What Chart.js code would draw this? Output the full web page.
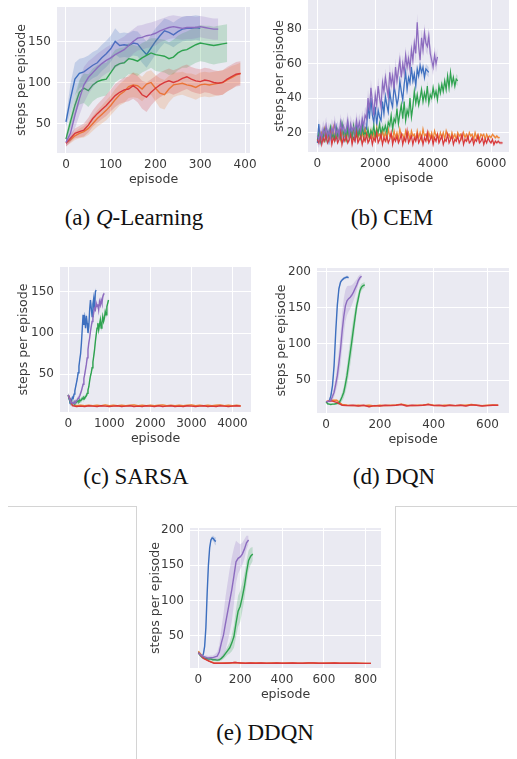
<!DOCTYPE html>
<html>
<head>
<meta charset="utf-8">
<script src="https://cdn.jsdelivr.net/npm/chart.js@4.4.1/dist/chart.umd.min.js"></script>
<style>
body { margin: 0; background: #fff; width: 517px; height: 759px; position: relative; overflow: hidden; }
canvas { position: absolute; }
.cap { position: absolute; font-family: "Liberation Serif", serif; font-size: 23px; line-height: 23px; color: #111; white-space: nowrap; transform: translateX(-50%); }
.ln { position: absolute; background: #d4d4d4; }
</style>
</head>
<body>
<canvas id="c0"></canvas>
<canvas id="c1"></canvas>
<canvas id="c2"></canvas>
<canvas id="c3"></canvas>
<canvas id="c4"></canvas>
<div class="cap" style="left:134px;top:206px">(a) <i>Q</i>-Learning</div>
<div class="cap" style="left:392px;top:206px">(b) CEM</div>
<div class="cap" style="left:136px;top:465px">(c) SARSA</div>
<div class="cap" style="left:394px;top:465px">(d) DQN</div>
<div class="cap" style="left:265px;top:721px">(e) DDQN</div>
<div class="ln" style="left:8px;top:506px;width:129px;height:1px"></div>
<div class="ln" style="left:136px;top:506px;width:1px;height:253px"></div>
<div class="ln" style="left:395px;top:506px;width:122px;height:1px"></div>
<div class="ln" style="left:395px;top:506px;width:1px;height:253px"></div>
<script>
// couleurs des séries (ordre de tracé: bleu, orange, vert, rouge, violet)
const cores = ["#3d6fbf", "#ef8636", "#2ea24f", "#d8383a", "#8c6bbf"];

// (a) Q-Learning, pas de 10 épisodes
const qlBlue = [52,80,104,111,113,117,121,124,130,135,141,150,145,146,145,148,147,140,134,142,150,157,163,161,158,162,165,166,166,167,166];
const qlBlueSd = [6,18,20,18,17,16,16,16,16,16,16,16,15,15,15,15,15,16,16,16,16,15,15,15,15,15,15,15,15,15,15];
const qlOrange = [26,30,35,38,40,44,50,56,61,66,72,79,85,89,95,97,96,92,98,100,93,87,85,92,97,98,99,97,96,94,97,98,97,98,99,100,103,106,109,111];
const qlOrangeSd = [4,4,5,6,7,8,9,10,11,12,12,13,13,14,14,15,15,15,15,15,16,18,18,16,15,14,14,14,15,15,15,15,15,15,15,15,14,14,13,13];
const qlGreen = [31,52,72,88,93,90,97,101,103,104,112,120,123,124,129,128,126,130,133,136,134,133,132,129,131,136,139,140,143,146,148,147,146,145,146,147,148];
const qlGreenSd = [5,8,12,15,18,20,20,20,20,20,20,20,19,19,19,18,18,18,18,18,20,20,20,20,21,21,21,22,22,22,22,22,23,23,23,23,23];
const qlRed = [26,32,38,40,42,48,56,62,67,72,78,84,88,91,92,96,92,85,82,88,93,97,100,102,100,102,105,107,104,102,101,103,102,100,99,100,104,107,110,111];
const qlRedSd = [4,5,6,7,8,9,10,11,12,13,13,14,14,15,15,16,16,17,18,16,15,15,15,15,15,15,15,15,15,15,15,15,15,15,15,15,15,15,15,15];
const qlPurple = [27,38,60,80,97,106,112,118,123,127,130,134,137,140,145,150,154,155,157,158,160,163,165,167,168,167,166,167,167,167,168,167,166,165,165];
const qlPurpleSd = [5,10,16,20,22,20,18,17,16,16,16,16,16,16,16,15,15,15,15,15,15,14,14,14,14,14,14,14,14,13,13,13,13,13,13];

// (b) CEM, pas de 50 épisodes
const cemBlue = [14,25,15,19,16,21,17,20,15,22,18,19,16,23,17,21,19,24,16,20,18,25,17,22,19,21,16,24,18,22,20,26,17,23,
    22,36,28,40,30,26,35,24,33,29,27,38,31,41,36,32,44,38,35,47,42,36,40,50,44,39,48,55,45,52,49,58,50,54,47,57,53,59,55,58,52,57,56,55];
const cemOrange = [18,20,16,22,17,19,16,21,18,23,16,19,17,20,16,22,18,19,16,21,
    17,20,16,23,18,19,16,21,17,20,16,22,18,19,16,21,17,20,16,23,
    18,19,16,21,17,20,16,22,18,19,16,21,17,20,16,22,18,19,16,21,
    17,20,16,21,18,19,16,21,17,20,16,22,18,19,16,20,17,20,16,21,
    18,19,16,20,17,20,16,21,18,19,16,20,17,19,16,20,18,19,16,20,
    17,19,16,20,18,19,16,20,17,19,16,19,18,19,16,19,17,18,17,19,
    18,17,18,17,17];
const cemGreen = [16,19,15,18,17,21,16,20,18,23,17,19,16,22,18,20,17,25,19,21,16,22,18,20,17,24,19,22,18,21,17,23,19,20,18,22,17,21,19,24,18,22,20,25,19,23,21,24,20,26,
    24,30,22,28,26,34,25,31,36,28,38,27,33,30,40,29,35,44,37,42,36,40,45,38,43,39,47,37,42,40,46,41,44,39,47,43,48,44,50,45,53,46,55,48,52,47,51,50];
const cemRed = [16,14,18,13,17,15,19,14,16,20,13,17,15,18,14,16,21,13,17,15,
    18,14,16,19,13,17,15,20,14,16,18,13,17,15,19,14,16,18,13,17,
    15,20,14,16,19,13,17,15,18,14,16,20,13,17,15,18,14,16,19,13,
    17,15,21,14,16,18,13,17,15,19,14,16,18,13,17,15,20,14,16,18,
    13,17,15,19,14,16,18,13,16,15,19,14,16,18,13,16,15,18,14,16,
    19,13,16,15,18,14,15,17,13,16,15,18,14,15,17,13,16,14,17,15,
    14,16,13,15,14,15,14,14,14];
const cemPurple = [18,16,20,17,22,19,24,18,21,17,23,20,25,19,22,18,26,21,24,20,22,27,19,25,21,23,20,27,22,26,21,28,24,30,
    28,40,33,46,38,30,42,36,47,40,35,49,44,52,46,41,55,48,53,45,58,50,56,62,52,60,55,65,58,63,57,68,62,72,66,84,70,62,75,68,78,72,70,76,66,62,58,65,60,64];

// (c) SARSA
const sarsaBlue = [25,20,17,19,18,22,21,26,30,35,40,45,52,60,68,75,88,105,122,110,118,106,121,112,100,108,128,140,130,120,135,142,128,150,152];
const sarsaOrange = [24,13,12,12.5,12,12.5,12,12.5,12,13,12,12.5,12,12.5,12,12.5,13,12,12.5,12,12.5,12,12.5,13,12,12.5,12,12.5,12,12.5,13,12,12.5,12,12.5,12,12.5,13,12,12.5,12,12.5,12];
const sarsaGreen = [25,21,18,17,16,15,15,16,15,17,16,17,18,17,19,18,19,21,20,22,21,23,24,27,31,35,42,48,52,58,65,72,80,90,98,106,112,104,110,116,106,112,120,114,118,126,122,132,136,140];
const sarsaRed = [25,12,11,11.5,11,12,11.5,11,12,11.5,11,11.5,12,11,11.5,12,11,11.5,11,12,11.5,11,12,11,11.5,12,11,11.5,11,12,11.5,11,11.5,12,11,11.5,11,12,11.5,11,11.5,12,11.5];
const sarsaPurple = [25,22,19,17,16,15,16,15,17,16,18,19,21,22,24,27,30,34,38,45,50,56,62,70,80,88,94,102,108,114,118,125,130,128,136,132,135,128,138,134,140,136,144,147,148];

// (d) DQN
const dqnBlue = [20,20,21,28,42,70,116,154,177,186,189,191,192,193,192];
const dqnBlueSd = [1,1,2,3,5,6,6,5,4,3,2,2,2,2,2];
const dqnOrange = [20,22,22,16,15,14.5,15,14.5,15,14,15,14.5,15,15.5,16.5,15,14.5,15,15,16.5,15,14.5,15,15,14.5,15,15,16,15,14.5,15,15.5,15];
const dqnGreen = [20,17,16.5,16,16.5,16.5,17,17.5,18,22,27,33,44,56,72,88,104,121,137,153,163,174,179,181,182];
const dqnGreenSd = [1,1,1,1,1,1,1,2,3,4,6,8,11,14,16,18,18,16,13,10,8,6,5,4,4];
const dqnRed = [20,21,19,15,14.5,15,14,15,13,14.5,14,15,14.5,15,16,14,15,14.5,15,16,14.5,15,14,15,14.5,15,14,15.5,15,14,14.5,15,15];
const dqnPurple = [20,20,21,22,27,33,44,56,74,93,118,138,153,160,163,165,168,172,177,182,188,192,194];
const dqnPurpleSd = [1,1,2,3,5,7,10,14,18,22,25,25,22,20,18,16,14,12,10,8,6,4,3];

// (e) DDQN
const ddqnBlue = [26,24,22,21,24,35,62,110,150,175,186,189,188,185,184];
const ddqnBlueSd = [2,2,2,2,3,5,8,8,6,4,3,3,4,5,6];
const ddqnOrange = [28,19,14.5,11.5,11,11.5,11.5,12,11.5,11,11.5,11.5,11.5,11,11.5,11.5,11,11.5,11.5,11,11,11.5,11.5,11,11,11.5,11.5,11,11,11,11,11,10.8,10.8];
const ddqnGreen = [26,22,19,18,18,17,17,16,16,15.5,16,18,21,25,29,33,40,49,68,85,92,105,120,140,157,163,166];
const ddqnGreenSd = [2,2,2,2,2,2,2,2,2,2,2,3,4,5,6,8,12,16,20,22,22,20,18,16,14,12,10];
const ddqnRed = [26,18,14,11,11,11,11.5,12,11.5,11,11.5,11,11.5,11,11,11.5,11,11,11.5,11,11,11.5,11.5,11,11,11,11.5,11,11,11,11,10.8,10.8,10.8];
const ddqnPurple = [26,23,21,20,19,18.5,19,19,20,21,27,40,51,68,84,100,116,135,155,160,162,166,173,182,186];
const ddqnPurpleSd = [2,2,2,2,3,3,3,3,4,6,10,20,30,38,42,45,45,40,30,22,18,16,14,10,6];

// ticks
const qlXTicks = [0, 100, 200, 300, 400], qlYTicks = [50, 100, 150];
const cemXTicks = [0, 2000, 4000, 6000], cemYTicks = [20, 40, 60, 80];
const sarsaXTicks = [0, 1000, 2000, 3000, 4000], sarsaYTicks = [50, 100, 150];
const dqnXTicks = [0, 200, 400, 600], dqnYTicks = [50, 100, 150, 200];
const ddqnXTicks = [0, 200, 400, 600, 800], ddqnYTicks = [50, 100, 150, 200];

// painéis: área do gráfico em px, largura do eixo y, limites
// série: [valores, faixa, x inicial, passo, espessura]
const paineis = [
    { id: "c0", left: 57, top: 7, w: 193, h: 146, yw: 48, xr: [-20, 411], yr: [14, 192], xt: qlXTicks, yt: qlYTicks,
      series: [[qlBlue, qlBlueSd, 0, 10], [qlOrange, qlOrangeSd, 0, 10], [qlGreen, qlGreenSd, 0, 10], [qlRed, qlRedSd, 0, 10], [qlPurple, qlPurpleSd, 0, 10]] },
    { id: "c1", left: 308, top: 0, w: 201, h: 152, yw: 41, xr: [-324, 6622], yr: [8.7, 97], xt: cemXTicks, yt: cemYTicks,
      series: [[cemBlue, 3, 0, 50, 1.2], [cemOrange, 1, 100, 50, 1.2], [cemGreen, 3, 0, 50, 1.2], [cemRed, 1, 0, 50, 1.2], [cemPurple, 5, 0, 50, 1.2]] },
    { id: "c2", left: 60, top: 267, w: 191, h: 145, yw: 49, xr: [-202, 4451], yr: [4.4, 180], xt: sarsaXTicks, yt: sarsaYTicks,
      series: [[sarsaBlue, 3, 0, 20], [sarsaOrange, 0.8, 0, 100], [sarsaGreen, 3, 0, 20], [sarsaRed, 0.8, 0, 100], [sarsaPurple, 3, 0, 20]] },
    { id: "c3", left: 317, top: 268, w: 192, h: 145, yw: 48, xr: [-33.5, 680], yr: [4.2, 205.5], xt: dqnXTicks, yt: dqnYTicks,
      series: [[dqnBlue, dqnBlueSd, 0, 6], [dqnOrange, 1, 0, 20], [dqnGreen, dqnGreenSd, 0, 6], [dqnRed, 1, 0, 20], [dqnPurple, dqnPurpleSd, 0, 6]] },
    { id: "c4", left: 190, top: 528, w: 191, h: 140, yw: 47, xr: [-40, 873], yr: [4.3, 203], xt: ddqnXTicks, yt: ddqnYTicks,
      series: [[ddqnBlue, ddqnBlueSd, 0, 6], [ddqnOrange, 1, 0, 25], [ddqnGreen, ddqnGreenSd, 0, 10], [ddqnRed, 1, 0, 25], [ddqnPurple, ddqnPurpleSd, 0, 10]] }
];

const corTexto = "#3a3a3a";
const fonte = { family: "DejaVu Sans", size: 12 };
const fonteTitulo = { family: "DejaVu Sans", size: 12.6 };

function transparente(hex, a) {
    let r = parseInt(hex.slice(1, 3), 16), g = parseInt(hex.slice(3, 5), 16), b = parseInt(hex.slice(5, 7), 16);
    return "rgba(" + r + "," + g + "," + b + "," + a + ")";
}

// fundo cinza-azulado do seaborn
const fundo = {
    id: "fundo",
    beforeDraw(chart) {
        let a = chart.chartArea, ctx = chart.ctx;
        ctx.save();
        ctx.fillStyle = "#eaeaf2";
        ctx.fillRect(a.left, a.top, a.right - a.left, a.bottom - a.top);
        ctx.restore();
    }
};

function montaDatasets(series) {
    let sets = [];
    series.forEach(function (s, k) {
        let [ys, sd, x0, dx, lw] = s;
        let cor = cores[k];
        let d = i => Array.isArray(sd) ? sd[i] : sd;
        sets.push({ data: ys.map((v, i) => ({ x: x0 + i * dx, y: v + d(i) })), borderColor: "rgba(0,0,0,0)", borderWidth: 0, pointRadius: 0, fill: false });
        sets.push({ data: ys.map((v, i) => ({ x: x0 + i * dx, y: v - d(i) })), borderColor: "rgba(0,0,0,0)", borderWidth: 0, pointRadius: 0, fill: "-1", backgroundColor: transparente(cor, 0.22) });
        sets.push({ data: ys.map((v, i) => ({ x: x0 + i * dx, y: v })), borderColor: cor, borderWidth: lw || 1.4, pointRadius: 0, fill: false });
    });
    sets.forEach((s, i) => s.order = -i);
    return sets;
}

for (let p of paineis) {
    let cv = document.getElementById(p.id);
    let W = p.yw + p.w + 12, H = 10 + p.h + 38;
    cv.width = W; cv.height = H;
    cv.style.left = (p.left - p.yw) + "px";
    cv.style.top = (p.top - 10) + "px";
    new Chart(cv.getContext("2d"), {
        type: "line",
        data: { datasets: montaDatasets(p.series) },
        options: {
            responsive: false,
            animation: false,
            layout: { padding: { top: 10, right: 12, left: 0, bottom: 0 } },
            elements: { line: { tension: 0 } },
            plugins: { legend: { display: false }, tooltip: { enabled: false } },
            scales: {
                x: {
                    type: "linear", min: p.xr[0], max: p.xr[1],
                    afterBuildTicks: s => { s.ticks = p.xt.map(v => ({ value: v })); },
                    afterFit: s => { s.height = 38; s.paddingLeft = 0; s.paddingRight = 0; s.paddingTop = 0; s.paddingBottom = 0; },
                    ticks: { color: corTexto, font: fonte, padding: 5, maxRotation: 0, autoSkip: false, callback: v => String(v) },
                    grid: { color: "#ffffff", lineWidth: 1, drawTicks: false },
                    border: { display: false },
                    title: { display: true, text: "episode", color: corTexto, font: fonteTitulo, padding: 4 }
                },
                y: {
                    type: "linear", min: p.yr[0], max: p.yr[1],
                    afterBuildTicks: s => { s.ticks = p.yt.map(v => ({ value: v })); },
                    afterFit: s => { s.width = p.yw; s.paddingLeft = 0; s.paddingRight = 0; s.paddingTop = 0; s.paddingBottom = 0; },
                    ticks: { color: corTexto, font: fonte, padding: 6, autoSkip: false, callback: v => String(v) },
                    grid: { color: "#ffffff", lineWidth: 1, drawTicks: false },
                    border: { display: false },
                    title: { display: true, text: "steps per episode", color: corTexto, font: fonteTitulo, padding: 5 }
                }
            }
        },
        plugins: [fundo]
    });
}
</script>
</body>
</html>
